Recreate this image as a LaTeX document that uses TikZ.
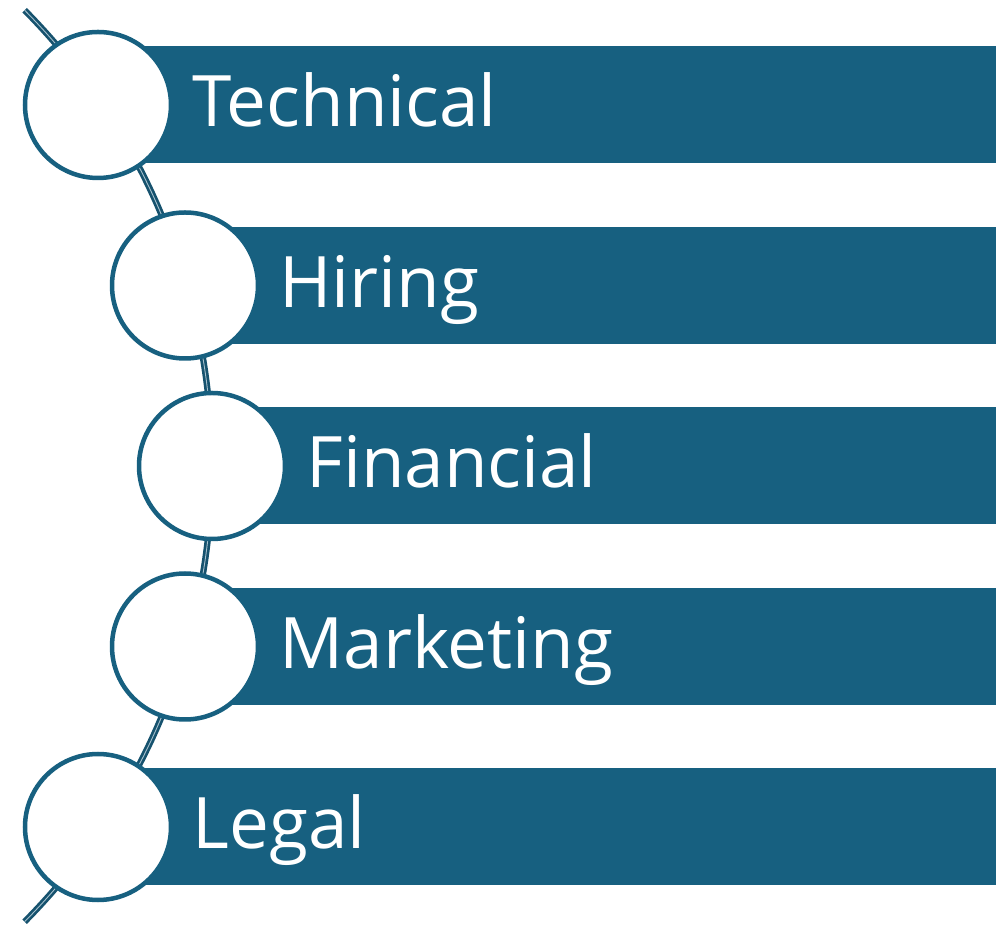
\documentclass[tikz,border=0pt]{standalone}
\usepackage{fontspec}
\setmainfont{Open Sans}
\definecolor{barblue}{RGB}{23,96,128}
\definecolor{linedark}{RGB}{22,82,110}
\definecolor{linelight}{RGB}{165,192,205}

\begin{document}
\begin{tikzpicture}[x=1pt,y=1pt]

      \useasboundingbox (0,0) rectangle (1001,926);

      \coordinate (top) at (24.6,915.8);
      \coordinate (p1) at (98,821);
      \coordinate (p2) at (185,640.5);
      \coordinate (p3) at (212,460);
      \coordinate (p4) at (185,279.5);
      \coordinate (p5) at (98,99);

      % the spine behind the circles
      \draw[linedark, line width=2.7pt, double=linelight, double distance=0.9pt]
        (top) arc[start angle=44.7, end angle=-44.7, radius=648];

      \begin{scope}[every node/.style={rectangle,fill=barblue,inner sep=0,anchor=west,minimum height=117}]
        \node[minimum width=898] (b1) at (p1) {};
        \node[minimum width=811] (b2) at (p2) {};
        \node[minimum width=784] (b3) at (p3) {};
        \node[minimum width=811] (b4) at (p4) {};
        \node[minimum width=898] (b5) at (p5) {};
      \end{scope}

      \begin{scope}[every node/.style={circle,draw=barblue,line width=4.5pt,fill=white,inner sep=0,minimum size=146}]
        \node (c1) at (p1) {};
        \node (c2) at (p2) {};
        \node (c3) at (p3) {};
        \node (c4) at (p4) {};
        \node (c5) at (p5) {};
      \end{scope}

      \begin{scope}[every node/.style={text=white,inner sep=0,anchor=base west,xshift=19pt,yshift=-22pt,font=\fontsize{71}{84}\selectfont}]
        \node (t1) at (c1.east) {Technical};
        \node (t2) at (c2.east) {Hiring};
        \node (t3) at (c3.east) {Financial};
        \node (t4) at (c4.east) {Marketing};
        \node (t5) at (c5.east) {Legal};
      \end{scope}

    \end{tikzpicture}
\end{document}
